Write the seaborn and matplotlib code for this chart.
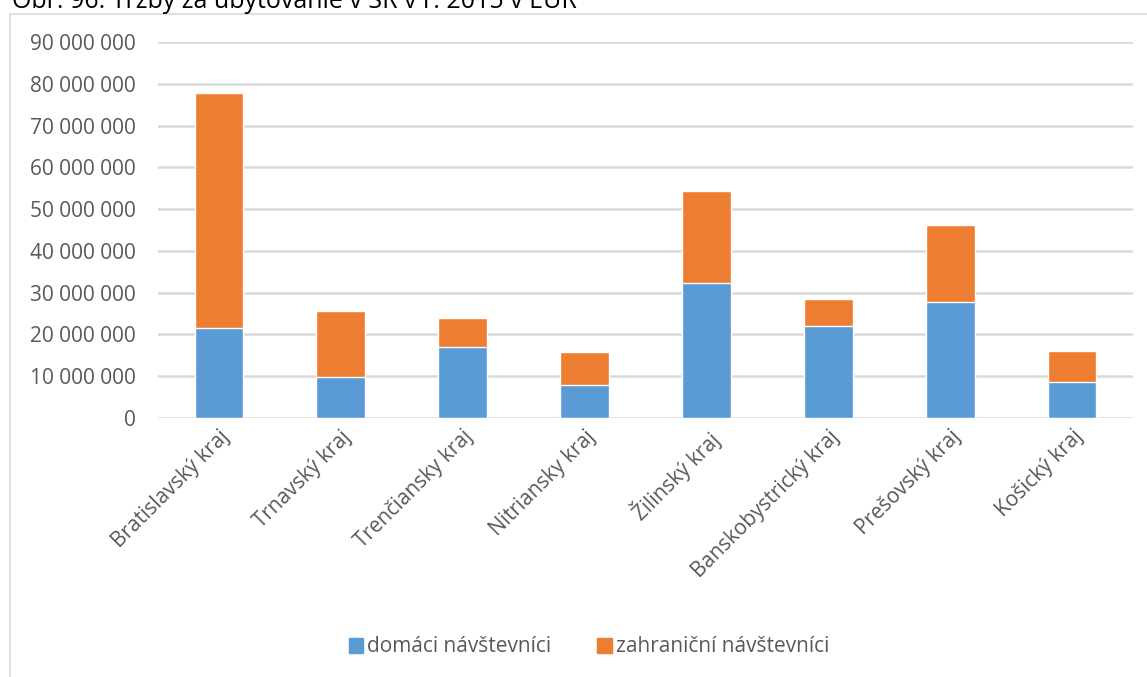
import pandas as pd
import numpy as np
import matplotlib.pyplot as plt
import seaborn as sns
from matplotlib.patches import Patch
from matplotlib.ticker import FuncFormatter

sns.set_theme(style="white")
plt.rcParams['font.family'] = ['Open Sans', 'DejaVu Sans']

# data (EUR)
regions = ['Bratislavský kraj', 'Trnavský kraj', 'Trenčiansky kraj', 'Nitriansky kraj',
           'Žilinský kraj', 'Banskobystrický kraj', 'Prešovský kraj', 'Košický kraj']
domestic = [21.5e6, 9.9e6, 17.0e6, 8.0e6, 32.2e6, 22.1e6, 27.8e6, 8.7e6]
foreign = [56.2e6, 15.6e6, 6.9e6, 7.9e6, 22.2e6, 6.3e6, 18.3e6, 7.4e6]
series_names = ['domáci návštevníci', 'zahraniční návštevníci']

blue = '#5b9bd5'
orange = '#ed7d31'
grey_text = '#595959'
grid_col = '#d9d9d9'

df = pd.DataFrame({'kraj': regions, 'domaci': domestic, 'zahranicni': foreign})
df['spolu'] = df['domaci'] + df['zahranicni']

fig = plt.figure(figsize=(11.47, 6.77), dpi=100)
ax = fig.add_axes([158 / 1147, 1 - 418 / 677, (1133 - 158) / 1147, (418 - 42) / 677])

# chart frame (left + top edges visible)
fig.add_artist(plt.Rectangle((10 / 1147, -0.1), 1.2, 1 - 14 / 677 + 0.1, transform=fig.transFigure,
                             fill=False, edgecolor=grid_col, linewidth=1.2))

sns.barplot(data=df, x='kraj', y='spolu', color=orange, width=0.4, saturation=1, ax=ax, zorder=3)
sns.barplot(data=df, x='kraj', y='domaci', color=blue, width=0.4, saturation=1, ax=ax, zorder=4)

ax.set_ylim(0, 90e6)
ax.set_yticks(np.arange(0, 90e6 + 1, 10e6))
ax.yaxis.set_major_formatter(FuncFormatter(lambda v, p: f"{int(v):,}".replace(',', ' ')))
ax.grid(axis='y', color=grid_col, linewidth=1.8, zorder=0)
ax.set_axisbelow(True)
for s in ax.spines.values():
    s.set_visible(False)
ax.set_xlabel('')
ax.set_ylabel('')
ax.tick_params(axis='y', colors=grey_text, labelsize=15, length=0, pad=16)
ax.tick_params(axis='x', colors=grey_text, labelsize=15, length=0, pad=6)
plt.setp(ax.get_xticklabels(), rotation=45, ha='right', rotation_mode='anchor')
ax.set_xlim(-0.5, len(regions) - 0.5)

fig.text(12 / 1147, 1 - 8 / 677, 'Obr. 96: Tržby za ubytovanie v SR v r. 2015 v EUR',
         fontsize=18, color='black', va='baseline', ha='left')

handles = [Patch(color=blue), Patch(color=orange)]
fig.legend(handles, series_names, loc='center', bbox_to_anchor=(589 / 1147, 1 - 647 / 677),
           ncol=2, frameon=False, fontsize=15, labelcolor=grey_text,
           handlelength=0.7, handleheight=0.7, handletextpad=0.2, columnspacing=2.2)

fig.savefig('out.png', dpi=100, facecolor='white')
